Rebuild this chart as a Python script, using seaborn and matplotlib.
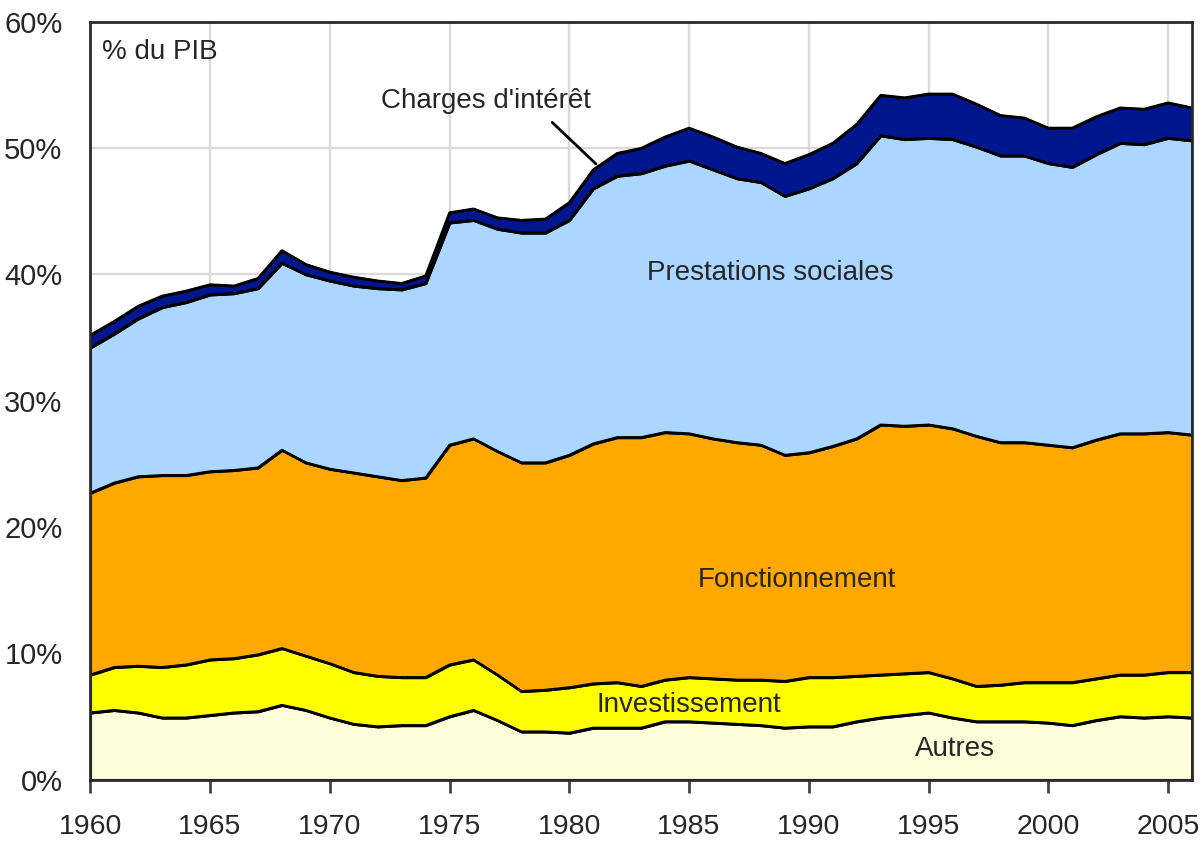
import numpy as np
import pandas as pd
import matplotlib
matplotlib.use("Agg")
import matplotlib.pyplot as plt
import seaborn as sns

# Dépenses publiques en % du PIB, 1960-2006
years = list(range(1960, 2007))

autres = [5.3, 5.5, 5.3, 4.9, 4.9, 5.1, 5.3, 5.4, 5.9, 5.5,
          4.9, 4.4, 4.2, 4.3, 4.3, 5.0, 5.5, 4.7, 3.8, 3.8,
          3.7, 4.1, 4.1, 4.1, 4.6, 4.6, 4.5, 4.4, 4.3, 4.1,
          4.2, 4.2, 4.6, 4.9, 5.1, 5.3, 4.9, 4.6, 4.6, 4.6,
          4.5, 4.3, 4.7, 5.0, 4.9, 5.0, 4.9]
investissement = [3.0, 3.4, 3.7, 4.0, 4.2, 4.4, 4.3, 4.5, 4.5, 4.3,
                  4.3, 4.1, 4.0, 3.8, 3.8, 4.1, 4.0, 3.6, 3.2, 3.3,
                  3.6, 3.5, 3.6, 3.3, 3.3, 3.5, 3.5, 3.5, 3.6, 3.7,
                  3.9, 3.9, 3.6, 3.4, 3.3, 3.2, 3.1, 2.8, 2.9, 3.1,
                  3.2, 3.4, 3.3, 3.3, 3.4, 3.5, 3.6]
fonctionnement = [14.4, 14.6, 15.0, 15.2, 15.0, 14.9, 14.9, 14.8, 15.7, 15.3,
                  15.4, 15.8, 15.8, 15.6, 15.8, 17.4, 17.5, 17.7, 18.1, 18.0,
                  18.4, 19.0, 19.4, 19.7, 19.6, 19.3, 19.0, 18.8, 18.6, 17.9,
                  17.8, 18.3, 18.8, 19.8, 19.6, 19.6, 19.8, 19.8, 19.2, 19.0,
                  18.8, 18.6, 18.9, 19.1, 19.1, 19.0, 18.8]
prestations = [11.5, 11.8, 12.5, 13.3, 13.7, 14.0, 14.0, 14.2, 14.8, 14.9,
               14.9, 14.8, 14.9, 15.1, 15.4, 17.6, 17.3, 17.6, 18.2, 18.2,
               18.6, 20.2, 20.7, 20.9, 21.1, 21.6, 21.3, 20.9, 20.8, 20.5,
               20.9, 21.2, 21.8, 22.9, 22.7, 22.7, 22.9, 22.9, 22.7, 22.7,
               22.3, 22.2, 22.6, 23.0, 22.9, 23.3, 23.3]
charges_interet = [1.0, 1.0, 1.0, 0.9, 0.9, 0.8, 0.6, 0.8, 1.0, 0.8,
                   0.7, 0.7, 0.6, 0.5, 0.6, 0.8, 0.9, 0.9, 1.0, 1.1,
                   1.4, 1.5, 1.8, 2.0, 2.3, 2.6, 2.6, 2.5, 2.3, 2.6,
                   2.7, 2.8, 3.1, 3.2, 3.3, 3.5, 3.6, 3.4, 3.2, 3.0,
                   2.8, 3.1, 3.0, 2.8, 2.8, 2.8, 2.6]

layers = ["Autres", "Investissement", "Fonctionnement",
          "Prestations sociales", "Charges d'intérêt"]
colors = ["#FFFCD9", "#FFFF00", "#FFA800", "#AAD6FF", "#00168F"]

df = pd.DataFrame({"annee": years,
                   "Autres": autres,
                   "Investissement": investissement,
                   "Fonctionnement": fonctionnement,
                   "Prestations sociales": prestations,
                   "Charges d'intérêt": charges_interet})

sns.set_theme(style="whitegrid")
plt.rcParams["font.family"] = ["Liberation Sans", "DejaVu Sans"]

fig = plt.figure(figsize=(12.04, 8.42), dpi=100)
ax = fig.add_axes([0.075, 0.074, 0.915, 0.900])
ax.set_axisbelow(True)

ax.stackplot(df["annee"], [df[c] for c in layers], colors=colors,
             edgecolor="black", linewidth=1.8, zorder=2)

# contours entre les couches
cumul = df[layers].cumsum(axis=1)
for c in layers:
    sns.lineplot(x=df["annee"], y=cumul[c], color="black", linewidth=1.8,
                 ax=ax, zorder=3)

ax.set_xlim(1960, 2006)
ax.set_ylim(0, 60)
ax.set_xticks(range(1960, 2006, 5))
ax.set_yticks(range(0, 61, 10))
ax.set_yticklabels([f"{v}%" for v in range(0, 61, 10)])
ax.set_xlabel("")
ax.set_ylabel("")
ax.grid(True, color="#d9d9d9", linewidth=1.6)
ax.tick_params(axis="x", which="major", bottom=True, length=9, width=2,
               color="#444444", labelsize=20.5, pad=16, labelcolor="#262626")
ax.tick_params(axis="y", left=False, labelsize=21, pad=14, labelcolor="#262626")
for s in ax.spines.values():
    s.set_color("#2b2b2b")
    s.set_linewidth(2)
    s.set_zorder(5)

txt = dict(fontsize=20, color="#262626", zorder=6)
ax.text(1960.5, 57.6, "% du PIB", ha="left", va="center", **txt)
ax.text(1976.5, 53.7, "Charges d'intérêt", ha="center", va="center", **txt)
ax.text(1988.4, 40.1, "Prestations sociales", ha="center", va="center", **txt)
ax.text(1989.5, 15.8, "Fonctionnement", ha="center", va="center", **txt)
ax.text(1985.0, 5.9, "Investissement", ha="center", va="center", **txt)
ax.text(1996.1, 2.4, "Autres", ha="center", va="center", **txt)
ax.annotate("", xy=(1981.2, 48.6), xytext=(1979.2, 52.2),
            arrowprops=dict(arrowstyle="-", color="black", linewidth=2),
            zorder=6)

fig.savefig("out.png", dpi=100)
